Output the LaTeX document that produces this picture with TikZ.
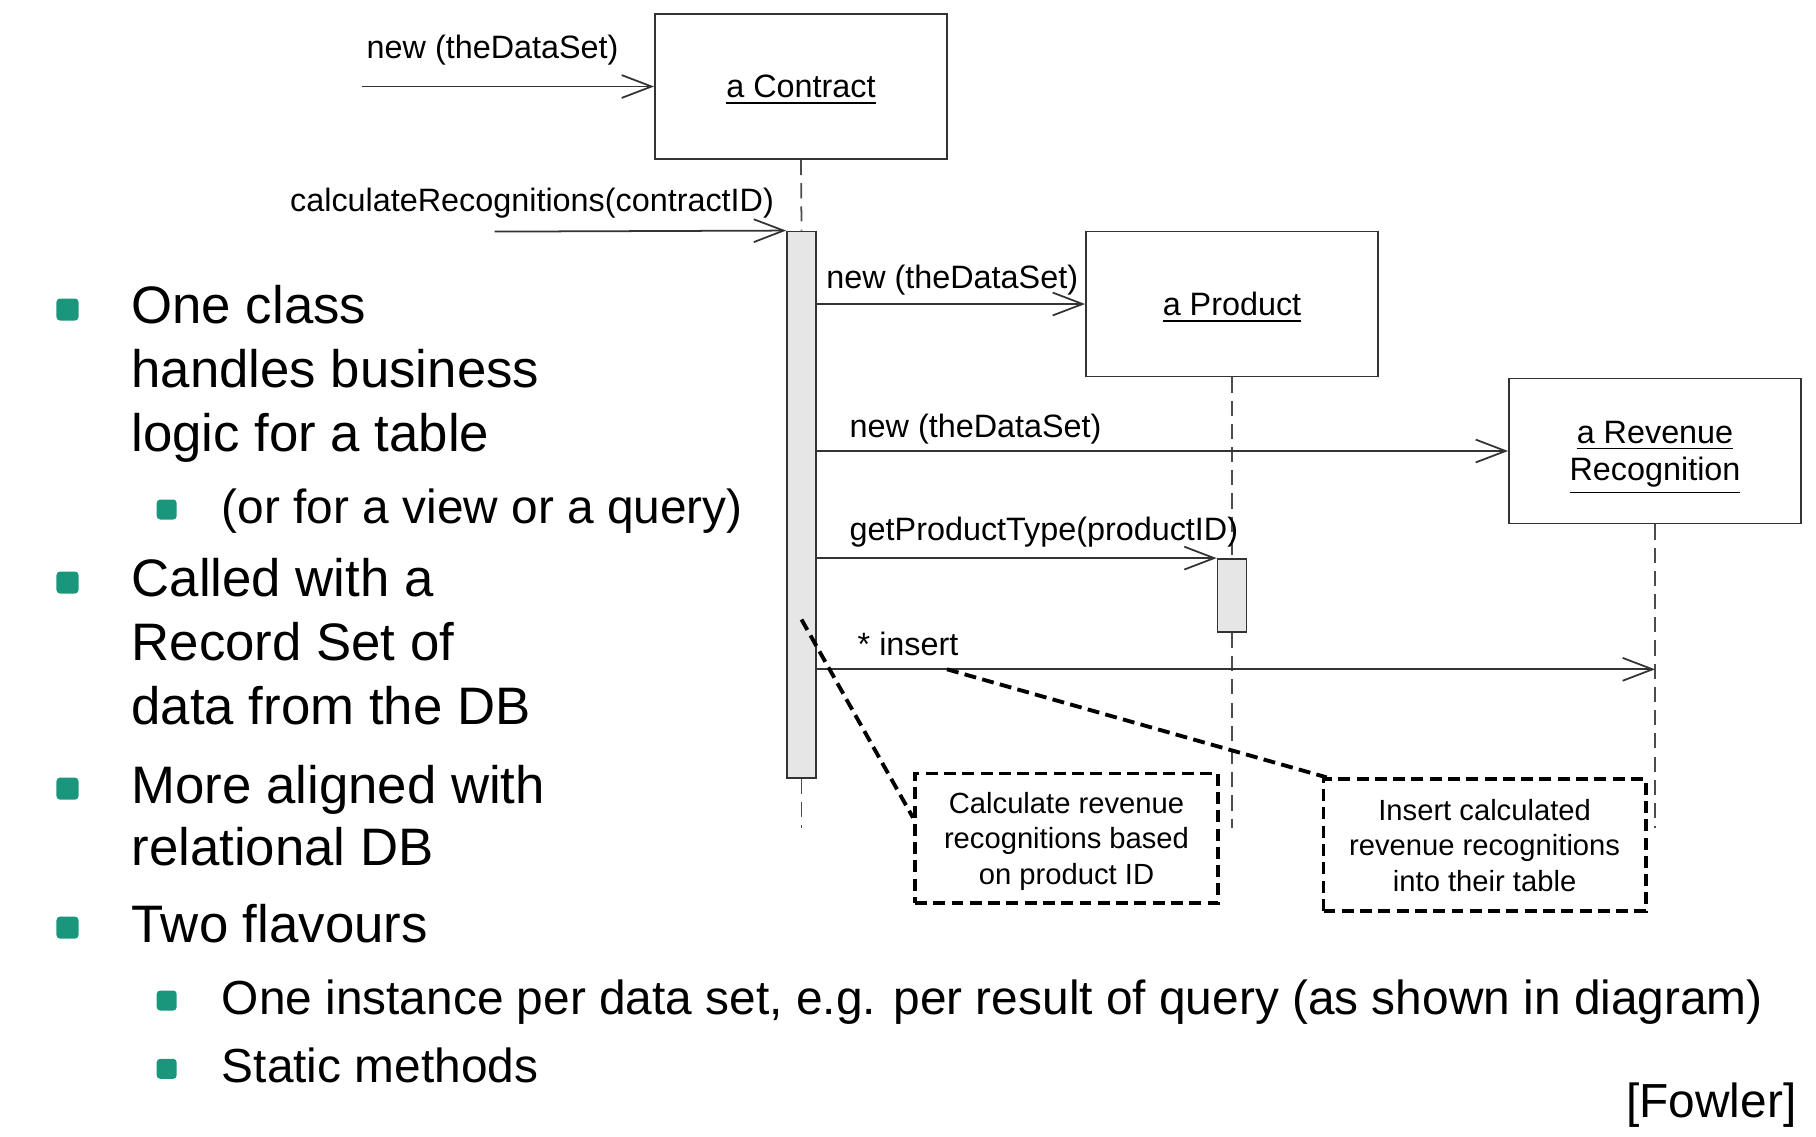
\documentclass[tikz,border=0pt]{standalone}
\usepackage{fontspec}
\setmainfont{Liberation Sans}
\usepackage{xcolor}
\usetikzlibrary{arrows.meta,positioning,calc}
\definecolor{bulletteal}{RGB}{26,150,125}
\definecolor{actgray}{RGB}{230,230,230}

\begin{document}
\begin{tikzpicture}[x=0.01cm,y=-0.01cm,
    objbox/.style={draw=black!80,line width=0.5pt,minimum width=2.92cm,minimum height=1.45cm,inner sep=0pt,text depth=0pt,font=\fontsize{9.2}{10.6}\selectfont,align=center},
    actbar/.style={draw=black!80,line width=0.5pt,fill=actgray,minimum width=0.29cm,inner sep=0pt},
    msg/.style={draw=black!80,line width=0.5pt,-{Straight Barb[length=8.5pt,width=6.5pt,line width=0.5pt]}},
    msglabel/.style={anchor=base west,inner sep=0pt,font=\fontsize{9.2}{11}\selectfont},
    lifeline/.style={draw=black!70,line width=0.5pt,dash pattern=on 4.3pt off 2.3pt},
    notebox/.style={draw,line width=1.1pt,dash pattern=on 3.4pt off 1.8pt,inner sep=0pt,text depth=0pt,font=\fontsize{8.3}{10}\selectfont,align=center},
    noteline/.style={line width=1.1pt,dash pattern=on 3.4pt off 1.8pt},
    mainbullet/.style={fill=bulletteal,rounded corners=1pt,minimum size=0.22cm,inner sep=0pt},
    subbullet/.style={mainbullet,minimum size=0.2cm},
    maintext/.style={anchor=base west,inner sep=0pt,font=\fontsize{15}{18}\selectfont},
    subtext/.style={anchor=base west,inner sep=0pt,font=\fontsize{13.6}{16}\selectfont}]
    \useasboundingbox (0,0) rectangle (1816,1136);

    % objects
    \node[objbox] (contract) at (801,86.5) {\underline{a Contract}};
    \node[objbox] (product) at (1232,304) {\underline{a Product}};
    \node[objbox] (revenue) at (1655,451) {\underline{a Revenue}\\\underline{Recognition}};

    % lifelines and activations
    \node[actbar,minimum height=5.464cm] (cbar) at (801.5,504.8) {};
    \node[actbar,minimum height=0.73cm] (pbar) at (1232,595.5) {};
    \coordinate (cend) at (801.5,828);
    \coordinate (pend) at (1232,828);
    \coordinate (rend) at (1655,828);
    \draw[lifeline] (contract.south) -- (cbar.north);
    \draw[lifeline] (cbar.south) -- (cend);
    \draw[lifeline] (product.south) -- (pbar.north);
    \draw[lifeline] (pbar.south) -- (pend);
    \draw[lifeline] (revenue.south) -- (rend);

    % messages
    \coordinate (newstart) at (362,86.5);
    \draw[msg] (newstart) -- (contract.west);
    \node[msglabel] (newlbl) at (366,58) {new (theDataSet)};
    \coordinate (calcstart) at (494.5,231.6);
    \draw[msg] (calcstart) -- (cbar.north west);
    \node[msglabel] (calclbl) at (289.5,211) {calculateRecognitions(contractID)};
    \draw[msg] (cbar.east |- product.west) -- (product.west);
    \node[msglabel] (prodlbl) at (825.6,288.4) {new (theDataSet)};
    \draw[msg] (cbar.east |- revenue.west) -- (revenue.west);
    \node[msglabel] (revlbl) at (849,437.7) {new (theDataSet)};
    \draw[msg] (cbar.east |- pbar.north west) -- (pbar.north west);
    \node[msglabel] (typelbl) at (849,540.8) {getProductType(productID)};
    \coordinate (insend) at (1655,669.3);
    \draw[msg] (cbar.east |- insend) -- (insend);
    \node[msglabel] (inslbl) at (857,655.4) {* insert};

    % notes
    \node[notebox,minimum width=3.03cm,minimum height=1.295cm] (note1) at (1066.5,838.3) {Calculate revenue\\recognitions based\\on product ID};
    \node[notebox,minimum width=3.22cm,minimum height=1.32cm] (note2) at (1484.6,845.3) {Insert calculated\\revenue recognitions\\into their table};
    \coordinate (note1from) at (801.5,619.5);
    \coordinate (note2from) at (947,669.3);
    \draw[noteline] (note1from) -- ([yshift=-0.46cm]note1.north west);
    \draw[noteline] (note2from) -- ([xshift=0.05cm]note2.north west);

    % bullet list
    \node[mainbullet] (b1) at (67.5,309.5) {};
    \node[maintext] (t1a) at (130.9,323.5) {One class};
    \node[maintext] (t1b) at (130.9,387) {handles business};
    \node[maintext] (t1c) at (130.9,451) {logic for a table};
    \node[subbullet] (b1s) at (166.7,509.5) {};
    \node[subtext] (t1s) at (221.2,523) {(or for a view or a query)};
    \node[mainbullet] (b2) at (67.5,582.5) {};
    \node[maintext] (t2a) at (130.9,596.7) {Called with a};
    \node[maintext] (t2b) at (130.9,660.4) {Record Set of};
    \node[maintext] (t2c) at (130.9,724) {data from the DB};
    \node[mainbullet] (b3) at (67.5,788.6) {};
    \node[maintext] (t3a) at (130.9,803) {More aligned with};
    \node[maintext] (t3b) at (130.9,865.4) {relational DB};
    \node[mainbullet] (b4) at (67.5,927.6) {};
    \node[maintext] (t4a) at (130.9,942) {Two flavours};
    \node[subbullet] (b4s1) at (166.7,1000.5) {};
    \node[subtext] (t4s1) at (221.2,1014) {One instance per data set, e.g. per result of query (as shown in diagram)};
    \node[subbullet] (b4s2) at (166.7,1068.8) {};
    \node[subtext] (t4s2) at (221.2,1082.4) {Static methods};
    \node[anchor=base east,inner sep=0pt,font=\fontsize{13.6}{16}\selectfont] (cite) at (1797,1117) {[Fowler]};
\end{tikzpicture}
\end{document}
